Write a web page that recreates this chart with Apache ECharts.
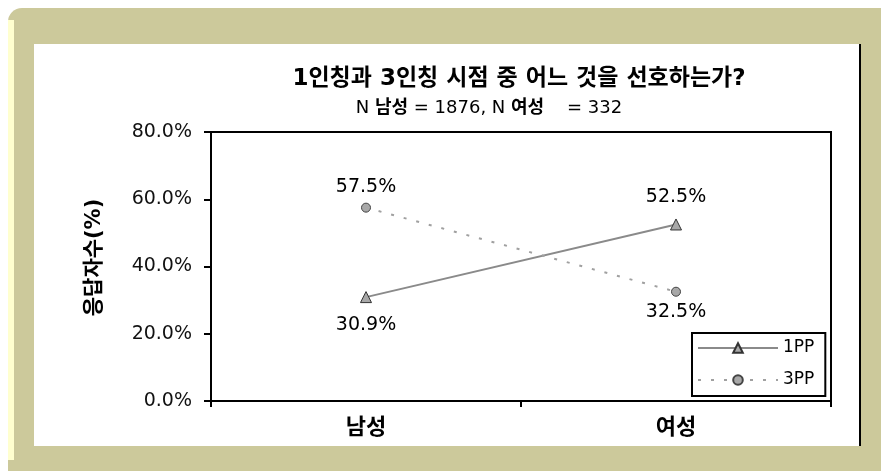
<!DOCTYPE html>
<html><head><meta charset="utf-8">
<script src="https://cdn.jsdelivr.net/npm/echarts@6/dist/echarts.min.js"></script>
<style>html,body{margin:0;padding:0;background:#fff}#c{width:881px;height:471px}</style>
</head><body><div id="c"></div>
<script>
const categories = ['남성', '여성'];
const seriesNames = ['1PP', '3PP'];
const values1PP = [30.9, 52.5];
const values3PP = [57.5, 32.5];
const yTicks = [0, 20, 40, 60, 80];
const titleText = '1인칭과 3인칭 시점 중 어느 것을 선호하는가?';
const yAxisTitle = '응답자수(%)';

const FONT = "'DejaVu Sans', 'Noto Sans CJK KR', sans-serif";
const chart = echarts.init(document.getElementById('c'), null, {renderer: 'canvas'});

function pos(own, other) { return own.map((v, i) => ({value: v, label: {position: v >= other[i] ? 'top' : 'bottom'}})); }

chart.setOption({
  backgroundColor: 'transparent',
  animation: false,
  graphic: {elements: [
    {type: 'rect', z: -100, shape: {x: 8, y: 8, width: 890, height: 480, r: 14}, style: {fill: '#CCC99B'}},
    {type: 'rect', z: -99, shape: {x: 8, y: 20, width: 6, height: 440}, style: {fill: '#FFFFCF'}},
    {type: 'rect', z: -98, shape: {x: 34, y: 44, width: 826, height: 402}, style: {fill: '#FFFFFF'}},
    {type: 'rect', z: -97, shape: {x: 859, y: 44, width: 2, height: 402}, style: {fill: '#000000'}}
  ]},
  title: [
    {text: titleText, left: 514, top: 63, textAlign: 'center',
     textStyle: {fontFamily: FONT, fontSize: 23, fontWeight: 'bold', color: '#000'}},
    {text: 'N {b|남성} = 1876, N {b|여성}    = 332', left: 484, top: 94, textAlign: 'center',
     textStyle: {fontFamily: FONT, fontSize: 18, fontWeight: 'normal', color: '#000',
       rich: {b: {fontFamily: FONT, fontSize: 18, fontWeight: 'bold', color: '#000'}}}}
  ],
  legend: {
    orient: 'vertical', left: 692, top: 333, data: seriesNames,
    backgroundColor: '#fff', borderColor: '#000', borderWidth: 2,
    padding: [6, 11, 7, 5], itemGap: 14, itemWidth: 80, itemHeight: 12,
    textStyle: {fontFamily: FONT, fontSize: 17, color: '#000', lineHeight: 18}
  },
  grid: {left: 211, right: 50, top: 132, bottom: 70, show: true, borderColor: '#000', borderWidth: 2, backgroundColor: 'transparent'},
  xAxis: {
    type: 'category', data: categories, boundaryGap: true,
    axisLine: {lineStyle: {color: '#000', width: 2}},
    axisTick: {show: true, length: 6, interval: 0, lineStyle: {color: '#000', width: 2}},
    axisLabel: {fontFamily: FONT, fontSize: 22, fontWeight: 'bold', color: '#000', margin: 16},
    splitLine: {show: false}
  },
  yAxis: {
    type: 'value', min: yTicks[0], max: yTicks[yTicks.length - 1], interval: yTicks[1] - yTicks[0],
    name: yAxisTitle, nameLocation: 'middle', nameGap: 106, nameRotate: 90,
    nameTextStyle: {fontFamily: FONT, fontSize: 21, fontWeight: 'bold', color: '#000', padding: [0, 0, 0, 18]},
    axisLine: {show: true, lineStyle: {color: '#000', width: 2}},
    axisTick: {show: true, length: 7, lineStyle: {color: '#000', width: 2}},
    axisLabel: {fontFamily: FONT, fontSize: 19, color: '#111', margin: 19, formatter: v => v.toFixed(1) + '%'},
    splitLine: {show: false}
  },
  series: [
    {name: seriesNames[0], type: 'line', data: pos(values1PP, values3PP),
     symbol: 'triangle', symbolSize: 11,
     lineStyle: {color: '#8A8A8A', width: 2},
     itemStyle: {color: '#A8A8A8', borderColor: '#333', borderWidth: 1},
     label: {show: true, distance: 12, fontFamily: FONT, fontSize: 19, color: '#000', formatter: p => p.value.toFixed(1) + '%'}},
    {name: seriesNames[1], type: 'line', data: pos(values3PP, values1PP),
     symbol: 'circle', symbolSize: 9,
     lineStyle: {color: '#A0A0A0', width: 2, type: [3, 10]},
     itemStyle: {color: '#A8A8A8', borderColor: '#444', borderWidth: 1},
     label: {show: true, distance: 6, fontFamily: FONT, fontSize: 19, color: '#000', formatter: p => p.value.toFixed(1) + '%'}}
  ]
});
</script></body></html>
